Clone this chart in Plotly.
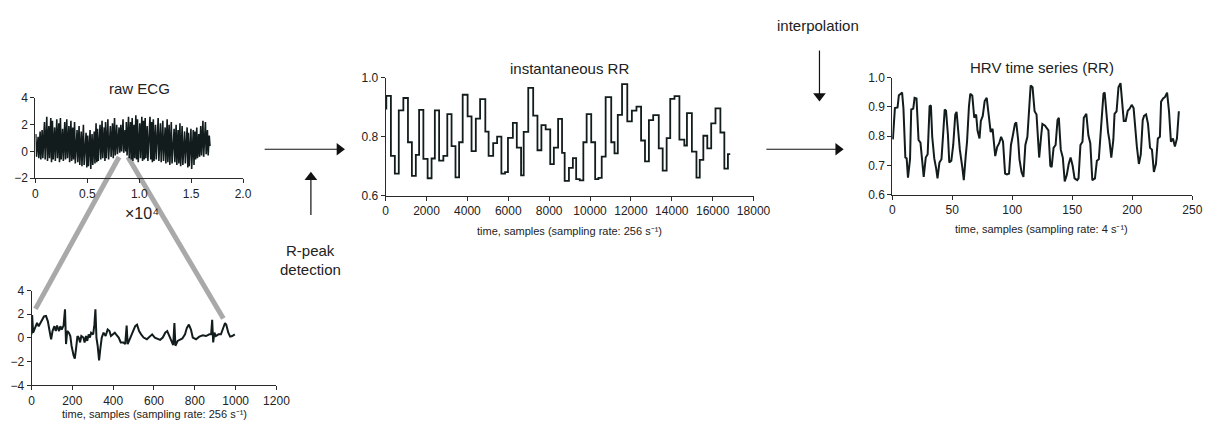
import plotly.graph_objects as go

# ---------------- data ----------------
# instantaneous RR: beat onset (samples @256 Hz) and RR value (s)
rr_t = [0, 32, 257, 449, 642, 866, 1091, 1283, 1476, 1636, 1845, 2053, 2246, 2406,
        2615, 2823, 3016, 3224, 3417, 3593, 3769, 4010, 4202, 4411, 4620, 4876, 5037,
        5261, 5454, 5662, 5839, 5983, 6224, 6416, 6625, 6753, 6977, 7218, 7427, 7619,
        7828, 8052, 8229, 8437, 8630, 8758, 8967, 9159, 9320, 9496, 9672, 9833, 10057,
        10250, 10410, 10571, 10763, 11036, 11196, 11357, 11565, 11822, 12046, 12271,
        12496, 12688, 12880, 13089, 13362, 13554, 13747, 13923, 14132, 14372, 14613,
        14741, 14982, 15206, 15367, 15543, 15736, 15928, 16137, 16377, 16570, 16746, 16858]
rr_v = [0.895, 0.938, 0.735, 0.675, 0.889, 0.931, 0.781, 0.667, 0.738, 0.891, 0.725,
        0.659, 0.726, 0.889, 0.719, 0.735, 0.876, 0.768, 0.662, 0.781, 0.942, 0.869,
        0.751, 0.861, 0.927, 0.817, 0.735, 0.778, 0.800, 0.675, 0.680, 0.796, 0.847,
        0.763, 0.669, 0.816, 0.965, 0.871, 0.754, 0.839, 0.825, 0.707, 0.763, 0.860,
        0.745, 0.650, 0.694, 0.727, 0.656, 0.652, 0.781, 0.876, 0.781, 0.656, 0.660,
        0.732, 0.934, 0.781, 0.743, 0.874, 0.978, 0.852, 0.888, 0.902, 0.787, 0.716,
        0.856, 0.873, 0.760, 0.685, 0.795, 0.928, 0.937, 0.790, 0.770, 0.880, 0.749,
        0.661, 0.721, 0.803, 0.760, 0.845, 0.896, 0.814, 0.692, 0.741, 0.741]

# raw ECG (whole record): R-peak heights and following troughs per beat (mV)
ecg_hi = [1.0, 1.3, 1.1, 1.5, 1.6,
          2.2, 2.6, 1.9, 2.5, 2.3, 1.8, 2.4, 2.1, 2.5, 1.7, 2.2, 2.4, 1.9, 2.3, 1.8,
          2.2, 1.6, 1.9, 1.5, 2.0,
          1.4, 1.2, 1.6, 1.3, 1.5, 2.1, 1.7,
          2.0, 2.3, 1.8, 2.2, 2.4, 1.9, 2.1, 2.5, 2.0, 1.8,
          2.0, 2.4, 1.6, 2.2,
          2.6, 2.2, 2.5, 2.0, 2.7, 2.4, 2.1, 2.6, 2.3, 2.5, 1.9, 2.6, 2.2, 2.4, 2.0,
          2.5, 2.1, 2.3, 1.8, 2.4, 2.0, 2.2, 1.7, 2.0, 1.6, 2.1, 1.9, 1.5, 1.8, 1.4,
          1.7, 1.6,
          1.5, 1.8, 1.3, 1.9, 2.3, 2.2, 1.6, 1.2]
ecg_lo = [-0.2, -0.4, -0.5, -0.6, -0.5,
          -0.6, -0.7, -0.5, -0.8, -0.6, -0.7, -0.5, -0.8, -0.6, -0.7, -0.6, -0.5, -0.8,
          -0.7, -0.6, -0.9, -0.8, -1.0, -1.1, -1.0,
          -1.2, -1.1, -1.3, -1.0, -0.9, -0.8, -0.7,
          -0.6, -0.5, -0.7, -0.5, -0.6, -0.4, -0.5, -0.3, -0.2, -0.1,
          0.0, -0.1, 0.0, -0.3,
          -0.5, -0.6, -0.7, -0.5, -0.6, -0.8, -0.5, -0.7, -0.6, -0.5, -0.7, -0.6, -0.8,
          -0.7, -0.6,
          -0.7, -0.8, -0.7, -0.9, -0.8, -1.0, -0.9, -0.8, -1.0, -0.9, -1.1, -1.0, -0.9,
          -1.2, -1.1, -1.3, -1.0,
          -0.6, -0.5, -0.4, -0.3, -0.4, -0.2, -0.3, 0.4]

# zoomed ECG segment (first ~1000 samples)
zecg_t = [0, 3, 8, 19, 27, 35, 43, 51, 61, 71, 80, 90, 96, 103, 112, 119, 125, 135, 141,
          148, 157, 164, 169, 175, 183, 190, 196, 206, 212, 218, 225, 231, 238, 244, 254,
          260, 267, 273, 280, 286, 292, 302, 308, 313, 318, 324, 331, 337, 344, 353, 363,
          373, 382, 389, 398, 408, 418, 427, 437, 450, 459, 466, 471, 479, 488, 498, 508,
          517, 527, 537, 549, 565, 582, 591, 604, 617, 630, 643, 655, 665, 675, 684, 694,
          700, 705, 716, 726, 739, 752, 761, 771, 781, 790, 806, 822, 839, 855, 871, 880,
          885, 890, 896, 903, 916, 928, 938, 948, 954, 964, 973, 983, 996]
zecg_v = [0.30, 1.92, 0.44, 0.85, 1.26, 0.99, 1.26, 1.40, 1.81, 1.86, 1.40, 0.44, -0.11,
          0.58, 0.99, 0.58, 1.04, 0.58, 0.99, 0.71, 1.04, 2.41, -0.52, 0.58, 0.44, 0.16,
          -0.66, -1.48, -1.75, -0.93, 0.16, 0.03, -0.38, 0.16, 0.03, -0.38, 0.16, -0.25,
          0.30, 0.03, 0.44, 0.30, 1.12, 2.41, 0.03, -0.66, -1.89, -0.93, 0.03, 0.44, 0.16,
          0.71, 0.58, 0.16, 0.30, 0.44, 0.22, 0.03, -0.38, -0.38, -0.52, 1.04, -0.52,
          -0.16, 0.16, 0.58, 0.99, 1.12, 0.58, 0.30, 0.03, -0.11, 0.16, 0.30, 0.03, -0.05,
          -0.16, 0.03, 0.44, 0.58, 0.16, -0.25, -0.60, 1.26, -0.66, -0.25, -0.16, -0.05,
          0.30, 0.85, 1.12, 0.71, 0.03, -0.11, 0.11, 0.22, 0.16, 0.30, 0.30, 1.53, -0.38,
          0.44, 0.16, 0.30, 0.30, 0.85, 1.26, 1.12, 0.44, 0.11, 0.16, 0.30]

# HRV time series (4 Hz resampled RR)
hrv_t = [0.5, 2.2, 4.4, 5.5, 7.1, 8.2, 9.3, 10.9, 12.0, 13.1, 14.8, 15.8, 17.5, 18.6,
         20.2, 21.9, 23.5, 24.6, 26.2, 27.9, 29.5, 31.1, 32.2, 33.3, 35.0, 36.6, 37.7,
         39.3, 41.0, 42.6, 43.7, 44.8, 46.4, 47.5, 49.2, 50.8, 52.5, 53.6, 55.2, 56.3,
         58.5, 59.6, 61.2, 62.3, 63.9, 65.0, 66.7, 68.3, 69.9, 71.0, 72.7, 73.8, 75.4,
         77.0, 78.7, 80.3, 82.0, 83.6, 84.7, 85.8, 87.4, 89.1, 90.7, 92.3, 94.0, 95.6,
         97.3, 98.9, 100.5, 102.2, 103.3, 104.9, 106.0, 107.7, 109.3, 110.9, 112.6,
         114.2, 115.3, 116.9, 118.6, 120.2, 121.3, 122.4, 124.0, 125.1, 127.3, 129.0,
         130.1, 131.7, 132.8, 134.4, 136.1, 137.7, 138.8, 140.4, 142.1, 143.7, 145.4,
         147.0, 148.6, 150.3, 151.9, 154.1, 155.2, 156.8, 158.5, 159.6, 161.7, 163.4,
         165.0, 166.7, 168.9, 170.5, 172.1, 173.8, 174.9, 176.0, 177.0, 178.7, 179.8,
         180.9, 182.5, 184.2, 185.2, 186.9, 188.5, 190.2, 191.8, 192.9, 194.5, 196.2,
         197.8, 199.5, 201.1, 202.7, 203.8, 205.5, 207.1, 208.7, 209.8, 211.5, 213.1,
         214.8, 216.4, 218.0, 219.7, 221.3, 223.0, 224.0, 225.7, 227.3, 229.0, 230.6,
         232.2, 233.9, 235.5, 237.2, 238.8]
hrv_v = [0.789, 0.896, 0.898, 0.940, 0.945, 0.949, 0.896, 0.727, 0.724, 0.658, 0.721,
         0.891, 0.894, 0.931, 0.929, 0.787, 0.778, 0.721, 0.661, 0.727, 0.738, 0.902,
         0.905, 0.798, 0.724, 0.689, 0.656, 0.710, 0.721, 0.820, 0.891, 0.887, 0.803,
         0.710, 0.716, 0.770, 0.874, 0.883, 0.809, 0.754, 0.689, 0.650, 0.732, 0.781,
         0.902, 0.945, 0.938, 0.863, 0.874, 0.820, 0.792, 0.852, 0.869, 0.920, 0.931,
         0.869, 0.814, 0.825, 0.787, 0.732, 0.763, 0.776, 0.798, 0.781, 0.672, 0.669,
         0.672, 0.770, 0.803, 0.842, 0.847, 0.787, 0.721, 0.678, 0.661, 0.770, 0.798,
         0.918, 0.973, 0.967, 0.885, 0.874, 0.798, 0.727, 0.798, 0.842, 0.836, 0.825,
         0.820, 0.699, 0.694, 0.760, 0.770, 0.855, 0.863, 0.754, 0.727, 0.645, 0.667,
         0.705, 0.727, 0.699, 0.656, 0.650, 0.656, 0.770, 0.781, 0.863, 0.876, 0.803,
         0.776, 0.650, 0.656, 0.716, 0.721, 0.820, 0.891, 0.945, 0.949, 0.858, 0.814,
         0.787, 0.727, 0.787, 0.876, 0.885, 0.967, 0.981, 0.913, 0.852, 0.852, 0.887,
         0.894, 0.907, 0.896, 0.798, 0.765, 0.705, 0.738, 0.855, 0.869, 0.874, 0.842,
         0.760, 0.754, 0.678, 0.705, 0.792, 0.798, 0.918, 0.929, 0.934, 0.949, 0.885,
         0.781, 0.792, 0.765, 0.792, 0.885]

raw_xtick_vals = [0, 5000, 10000, 15000, 20000]
raw_xtick_text = ["0", "0.5", "1.0", "1.5", "2.0"]

# ---------------- figure ----------------
W, H = 1227, 432
def px(x): return x / W
def py(y): return 1 - y / H

INK = "#121c1c"
AX = "#2a2a2a"
FONT = "Liberation Sans, Arial, Helvetica, sans-serif"

# zig-zag through R-peak heights and troughs for the dense raw record
raw_x, raw_y = [], []
for i in range(len(ecg_hi)):
    raw_x += [rr_t[i], rr_t[i] + 70]
    raw_y += [ecg_hi[i], ecg_lo[i]]

fig = go.Figure()
fig.add_trace(go.Scatter(x=raw_x, y=raw_y, mode="lines", line=dict(color=INK, width=1.6),
                         xaxis="x", yaxis="y", hoverinfo="skip"))
fig.add_trace(go.Scatter(x=zecg_t, y=zecg_v, mode="lines", line=dict(color=INK, width=2),
                         xaxis="x2", yaxis="y2"))
fig.add_trace(go.Scatter(x=rr_t, y=rr_v, mode="lines", line=dict(color=INK, width=1.8, shape="hv"),
                         xaxis="x3", yaxis="y3"))
fig.add_trace(go.Scatter(x=hrv_t, y=hrv_v, mode="lines", line=dict(color=INK, width=2),
                         xaxis="x4", yaxis="y4"))

# flow arrows on a full-page overlay (pixel coordinates of the page)
arrows = [  # (x0, y0, x1, y1, head symbol)
    (266, 147, 342, 147, "triangle-right"),
    (776, 147, 849, 147, "triangle-right"),
    (313, 215, 313, 176, "triangle-up"),
    (830, 45, 830, 92, "triangle-down"),
]
for x0, y0, x1, y1, sym in arrows:
    fig.add_trace(go.Scatter(x=[x0, x1], y=[y0, y1], mode="lines",
                             line=dict(color="#111", width=1.2), xaxis="x5", yaxis="y5",
                             hoverinfo="skip"))
    fig.add_trace(go.Scatter(x=[x1], y=[y1], mode="markers",
                             marker=dict(symbol=sym, size=11, color="#111"),
                             xaxis="x5", yaxis="y5", hoverinfo="skip"))

def ax_style(**kw):
    d = dict(showline=True, linecolor=AX, linewidth=1, ticks="outside", ticklen=4,
             tickcolor=AX, tickwidth=1, showgrid=False, zeroline=False,
             tickfont=dict(size=12, color="#222", family=FONT), fixedrange=True)
    d.update(kw)
    return d

layout = dict(
    width=W, height=H, margin=dict(l=0, r=0, t=0, b=0),
    paper_bgcolor="white", plot_bgcolor="rgba(0,0,0,0)", showlegend=False,
    font=dict(family=FONT, color="#222"),
    xaxis=ax_style(domain=[px(33), px(244)], range=[0, 20000], anchor="y",
                   tickvals=raw_xtick_vals, ticktext=raw_xtick_text),
    yaxis=ax_style(domain=[py(177), py(94)], range=[-2, 4], anchor="x", dtick=2),
    xaxis2=ax_style(domain=[px(29), px(278)], range=[0, 1200], anchor="y2", dtick=200),
    yaxis2=ax_style(domain=[py(391), py(293)], range=[-4, 4], anchor="x2", dtick=2),
    xaxis3=ax_style(domain=[px(389), px(763)], range=[0, 18000], anchor="y3", dtick=2000,
                    tickformat="d"),
    yaxis3=ax_style(domain=[py(195), py(73)], range=[0.6, 1.0], anchor="x3", dtick=0.2,
                    tickformat=".1f"),
    xaxis4=ax_style(domain=[px(904), px(1209)], range=[0, 250], anchor="y4", dtick=50),
    yaxis4=ax_style(domain=[py(194), py(73)], range=[0.6, 1.0], anchor="x4", dtick=0.1,
                    tickformat=".1f"),
    xaxis5=dict(domain=[0, 1], range=[0, W], visible=False, anchor="y5", fixedrange=True),
    yaxis5=dict(domain=[0, 1], range=[H, 0], visible=False, anchor="x5", fixedrange=True),
)
fig.update_layout(**layout)

GRAY = "#a9a9a9"
fig.add_shape(type="line", xref="paper", yref="paper", x0=px(118), y0=py(155),
              x1=px(33), y1=py(312), line=dict(color=GRAY, width=5), layer="below")
fig.add_shape(type="line", xref="paper", yref="paper", x0=px(127), y0=py(155),
              x1=px(224), y1=py(322), line=dict(color=GRAY, width=5), layer="below")

def text(x, y, s, size=14):
    fig.add_annotation(x=px(x), y=py(y), xref="paper", yref="paper", text=s,
                       showarrow=False, font=dict(size=size, family=FONT, color="#222"),
                       xanchor="center", yanchor="middle")

text(139, 84, "raw ECG", 15)
text(576, 64, "instantaneous RR", 15)
text(1056, 63, "HRV time series (RR)", 15)
text(141, 213, "×10⁴", 16)
xl = "time, samples (sampling rate: 256 s⁻¹)"
text(154, 421, xl, 11)
text(576, 232, xl, 11)
text(1056, 229, "time, samples (sampling rate: 4 s⁻¹)", 11)
text(313, 252, "R-peak", 15)
text(313, 271, "detection", 15)
text(829, 19, "interpolation", 15)

fig.write_html("out.html", config={"displayModeBar": False},
               post_script="document.body.style.margin='0';document.body.style.padding='0';"
                           "document.documentElement.style.overflow='hidden';")
